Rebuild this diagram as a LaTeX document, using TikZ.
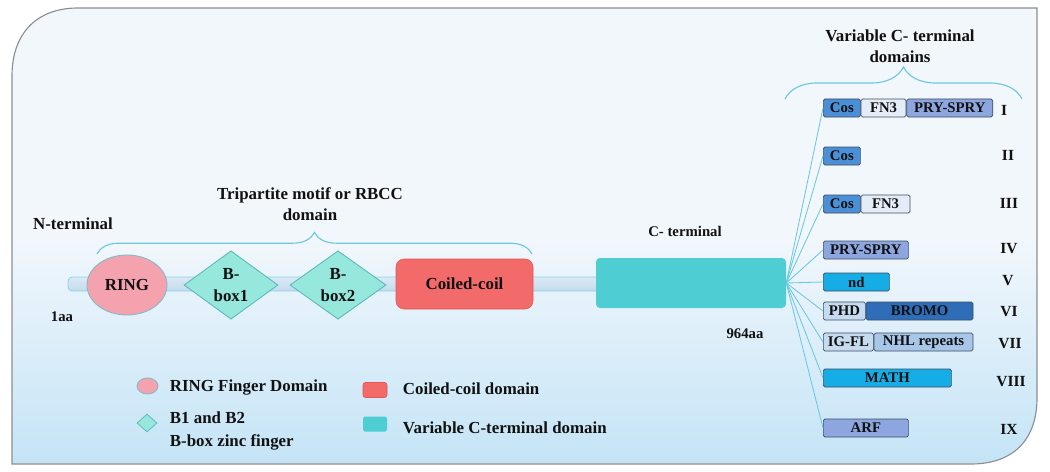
\documentclass[tikz,border=0pt]{standalone}
\usepackage{fontspec}
\setmainfont{Liberation Serif}
\usetikzlibrary{positioning,shapes.geometric,decorations.pathreplacing,calc}
\definecolor{PanelTop}{HTML}{F2F7FC}
\definecolor{PanelBot}{HTML}{C4E4F6}
\definecolor{Frame}{HTML}{8A8F96}
\definecolor{Bar}{HTML}{C3DBEE}
\definecolor{BarEdge}{HTML}{8AD3E6}
\definecolor{Ring}{HTML}{F4A3AE}
\definecolor{RingEdge}{HTML}{7DBBC7}
\definecolor{BBox}{HTML}{96E8DC}
\definecolor{BBoxEdge}{HTML}{5AB7B9}
\definecolor{Coil}{HTML}{F26A6A}
\definecolor{CoilEdge}{HTML}{E35656}
\definecolor{CTerm}{HTML}{4ECDD3}
\definecolor{Fan}{HTML}{6CC8DE}
\definecolor{Cos}{HTML}{4B8FD6}
\definecolor{FNthree}{HTML}{E4EDF7}
\definecolor{Pry}{HTML}{8DA6DF}
\definecolor{Nd}{HTML}{16ADE6}
\definecolor{Phd}{HTML}{C6DAF0}
\definecolor{Bromo}{HTML}{2F6DB9}
\definecolor{Nhl}{HTML}{A8C6E8}
\definecolor{BoxEdge}{HTML}{3D4D60}
\definecolor{Ink}{HTML}{111111}
\tikzset{
  every node/.append style={text=Ink},
  w/.style={minimum width=#1*0.25mm},
  seg/.style={draw=BoxEdge, line width=0.5pt, rounded corners=0.4mm,
              minimum height=4.5mm, inner sep=0pt,
              font=\fontsize{10.5}{11}\selectfont\bfseries},
  num/.style={font=\fontsize{11}{12}\selectfont\bfseries},
  tag/.style={font=\fontsize{12}{15}\selectfont\bfseries, align=center},
  small/.style={font=\fontsize{10.5}{12}\selectfont\bfseries},
  key/.style={font=\fontsize{12}{16}\selectfont\bfseries, anchor=west, align=left},
  ringshape/.style={ellipse, draw=RingEdge, fill=Ring, line width=0.6pt},
  bboxshape/.style={diamond, draw=BBoxEdge, fill=BBox, line width=0.6pt,
              inner sep=0pt, align=center, font=\fontsize{12}{16}\selectfont\bfseries},
  coilbox/.style={draw=CoilEdge, fill=Coil, rounded corners=2mm},
  ctermbox/.style={fill=CTerm, rounded corners=1mm},
  fan/.style={draw=Fan, line width=0.6pt},
  curly/.style={draw=Fan, line width=0.8pt, decorate, decoration={brace, amplitude=#1}},
}
\begin{document}
\begin{tikzpicture}[x=0.25mm, y=-0.25mm]
  \path[use as bounding box] (0,0) rectangle (1050,472);
  % panel
  \draw[Frame, line width=0.8pt, top color=PanelTop, bottom color=PanelBot, middle color=PanelTop]
    (12,464) -- (12,76) .. controls (12,34) and (36,8) .. (78,8) -- (1037,8)
    -- (1037,398) .. controls (1037,440) and (1013,464) .. (971,464) -- cycle;

  % backbone
  \draw[BarEdge, line width=0.6pt, top color=Bar!60, bottom color=Bar, rounded corners=1mm]
    (68,277) rectangle (600,291);
  \node[ringshape, minimum width=20mm, minimum height=15mm,
        font=\fontsize{12}{14}\selectfont\bfseries] (ring) at (127,285) {RING};
  \node[bboxshape, minimum width=23.5mm, minimum height=16mm] (bbox1) at (231,285) {B-\\box1};
  \node[bboxshape, minimum width=24mm, minimum height=15mm] (bbox2) at (338,285) {B-\\box2};
  \node[coilbox, minimum width=34.25mm, minimum height=12.5mm,
        font=\fontsize{12}{14}\selectfont\bfseries] (coil) at (464.5,284) {Coiled-coil};
  \node[ctermbox, minimum width=47.5mm, minimum height=12.5mm] (cterm) at (691,283) {};

  % labels
  \node[tag] (nterm) at (73,224) {N-terminal};
  \node[tag] (rbcc) at (310,204) {Tripartite motif or RBCC\\domain};
  \node[tag] (varct) at (900,46) {Variable C- terminal\\domains};
  \node[small] (ctermlbl) at (685,231) {C- terminal};
  \node[small] (first) at (62,317) {1aa};
  \node[small] (last) at (745,334) {964aa};
  \draw[curly=5.4mm] (97,254) -- (532,254);
  \draw[curly=8mm] (785,99) -- (1022,99);

  % variable C-terminal domains
  \node[seg, w=37, fill=Cos, anchor=west] (cosI) at (823,108) {Cos};
  \node[seg, w=45, fill=FNthree, right=0pt of cosI] (fnI) {FN3};
  \node[seg, w=86, fill=Pry, right=0pt of fnI] (pryI) {PRY-SPRY};
  \node[seg, w=37, fill=Cos, anchor=west] (cosII) at (823,156) {Cos};
  \node[seg, w=37, fill=Cos, anchor=west] (cosIII) at (823,204) {Cos};
  \node[seg, w=49, fill=FNthree, right=0pt of cosIII] (fnIII) {FN3};
  \node[seg, w=85, fill=Pry, anchor=west] (pryIV) at (823,250) {PRY-SPRY};
  \node[seg, w=66, fill=Nd, anchor=west] (ndV) at (823,282) {nd};
  \node[seg, w=42, fill=Phd, anchor=west] (phdVI) at (823,311) {PHD};
  \node[seg, w=107, fill=Bromo, right=0pt of phdVI] (bromoVI) {BROMO};
  \node[seg, w=50, fill=Phd, anchor=west] (igVII) at (823,342) {IG-FL};
  \node[seg, w=99, fill=Nhl, right=0pt of igVII] (nhlVII) {NHL repeats};
  \node[seg, w=128, fill=Nd, anchor=west] (mathVIII) at (823,378) {MATH};
  \node[seg, w=85, fill=Pry, anchor=west] (arfIX) at (823,428) {ARF};

  \node[num] (nI) at (1004,110) {I};
  \node[num] (nII) at (1008,155) {II};
  \node[num] (nIII) at (1009,203) {III};
  \node[num] (nIV) at (1009,249) {IV};
  \node[num] (nV) at (1008,281) {V};
  \node[num] (nVI) at (1009,312) {VI};
  \node[num] (nVII) at (1010,344) {VII};
  \node[num] (nVIII) at (1011,382) {VIII};
  \node[num] (nIX) at (1009,429) {IX};

  \foreach \b in {cosI,cosII,cosIII,pryIV,ndV,phdVI,igVII,mathVIII,arfIX}
    \draw[fan] (cterm.east) -- (\b.west);

  % legend
  \node[ringshape, minimum width=5.25mm, minimum height=4mm, inner sep=0pt] (kring) at (147.5,386) {};
  \node[key] (kringtxt) at (165,388) {RING Finger Domain};
  \node[diamond, draw=BBoxEdge, fill=BBox, line width=0.5pt, inner sep=0pt,
        minimum width=5mm, minimum height=4.5mm] (kbbox) at (147,423) {};
  \node[key] (kbboxtxt) at (165,431) {B1 and B2\\B-box zinc finger};
  \node[coilbox, rounded corners=0.6mm, minimum width=6mm, minimum height=3.75mm] (kcoil) at (375,390) {};
  \node[key] (kcoiltxt) at (398,389) {Coiled-coil domain};
  \node[ctermbox, rounded corners=0.4mm, minimum width=6mm, minimum height=3.75mm] (kcterm) at (375,424) {};
  \node[key] (kctermtxt) at (398,428) {Variable C-terminal domain};
\end{tikzpicture}
\end{document}
